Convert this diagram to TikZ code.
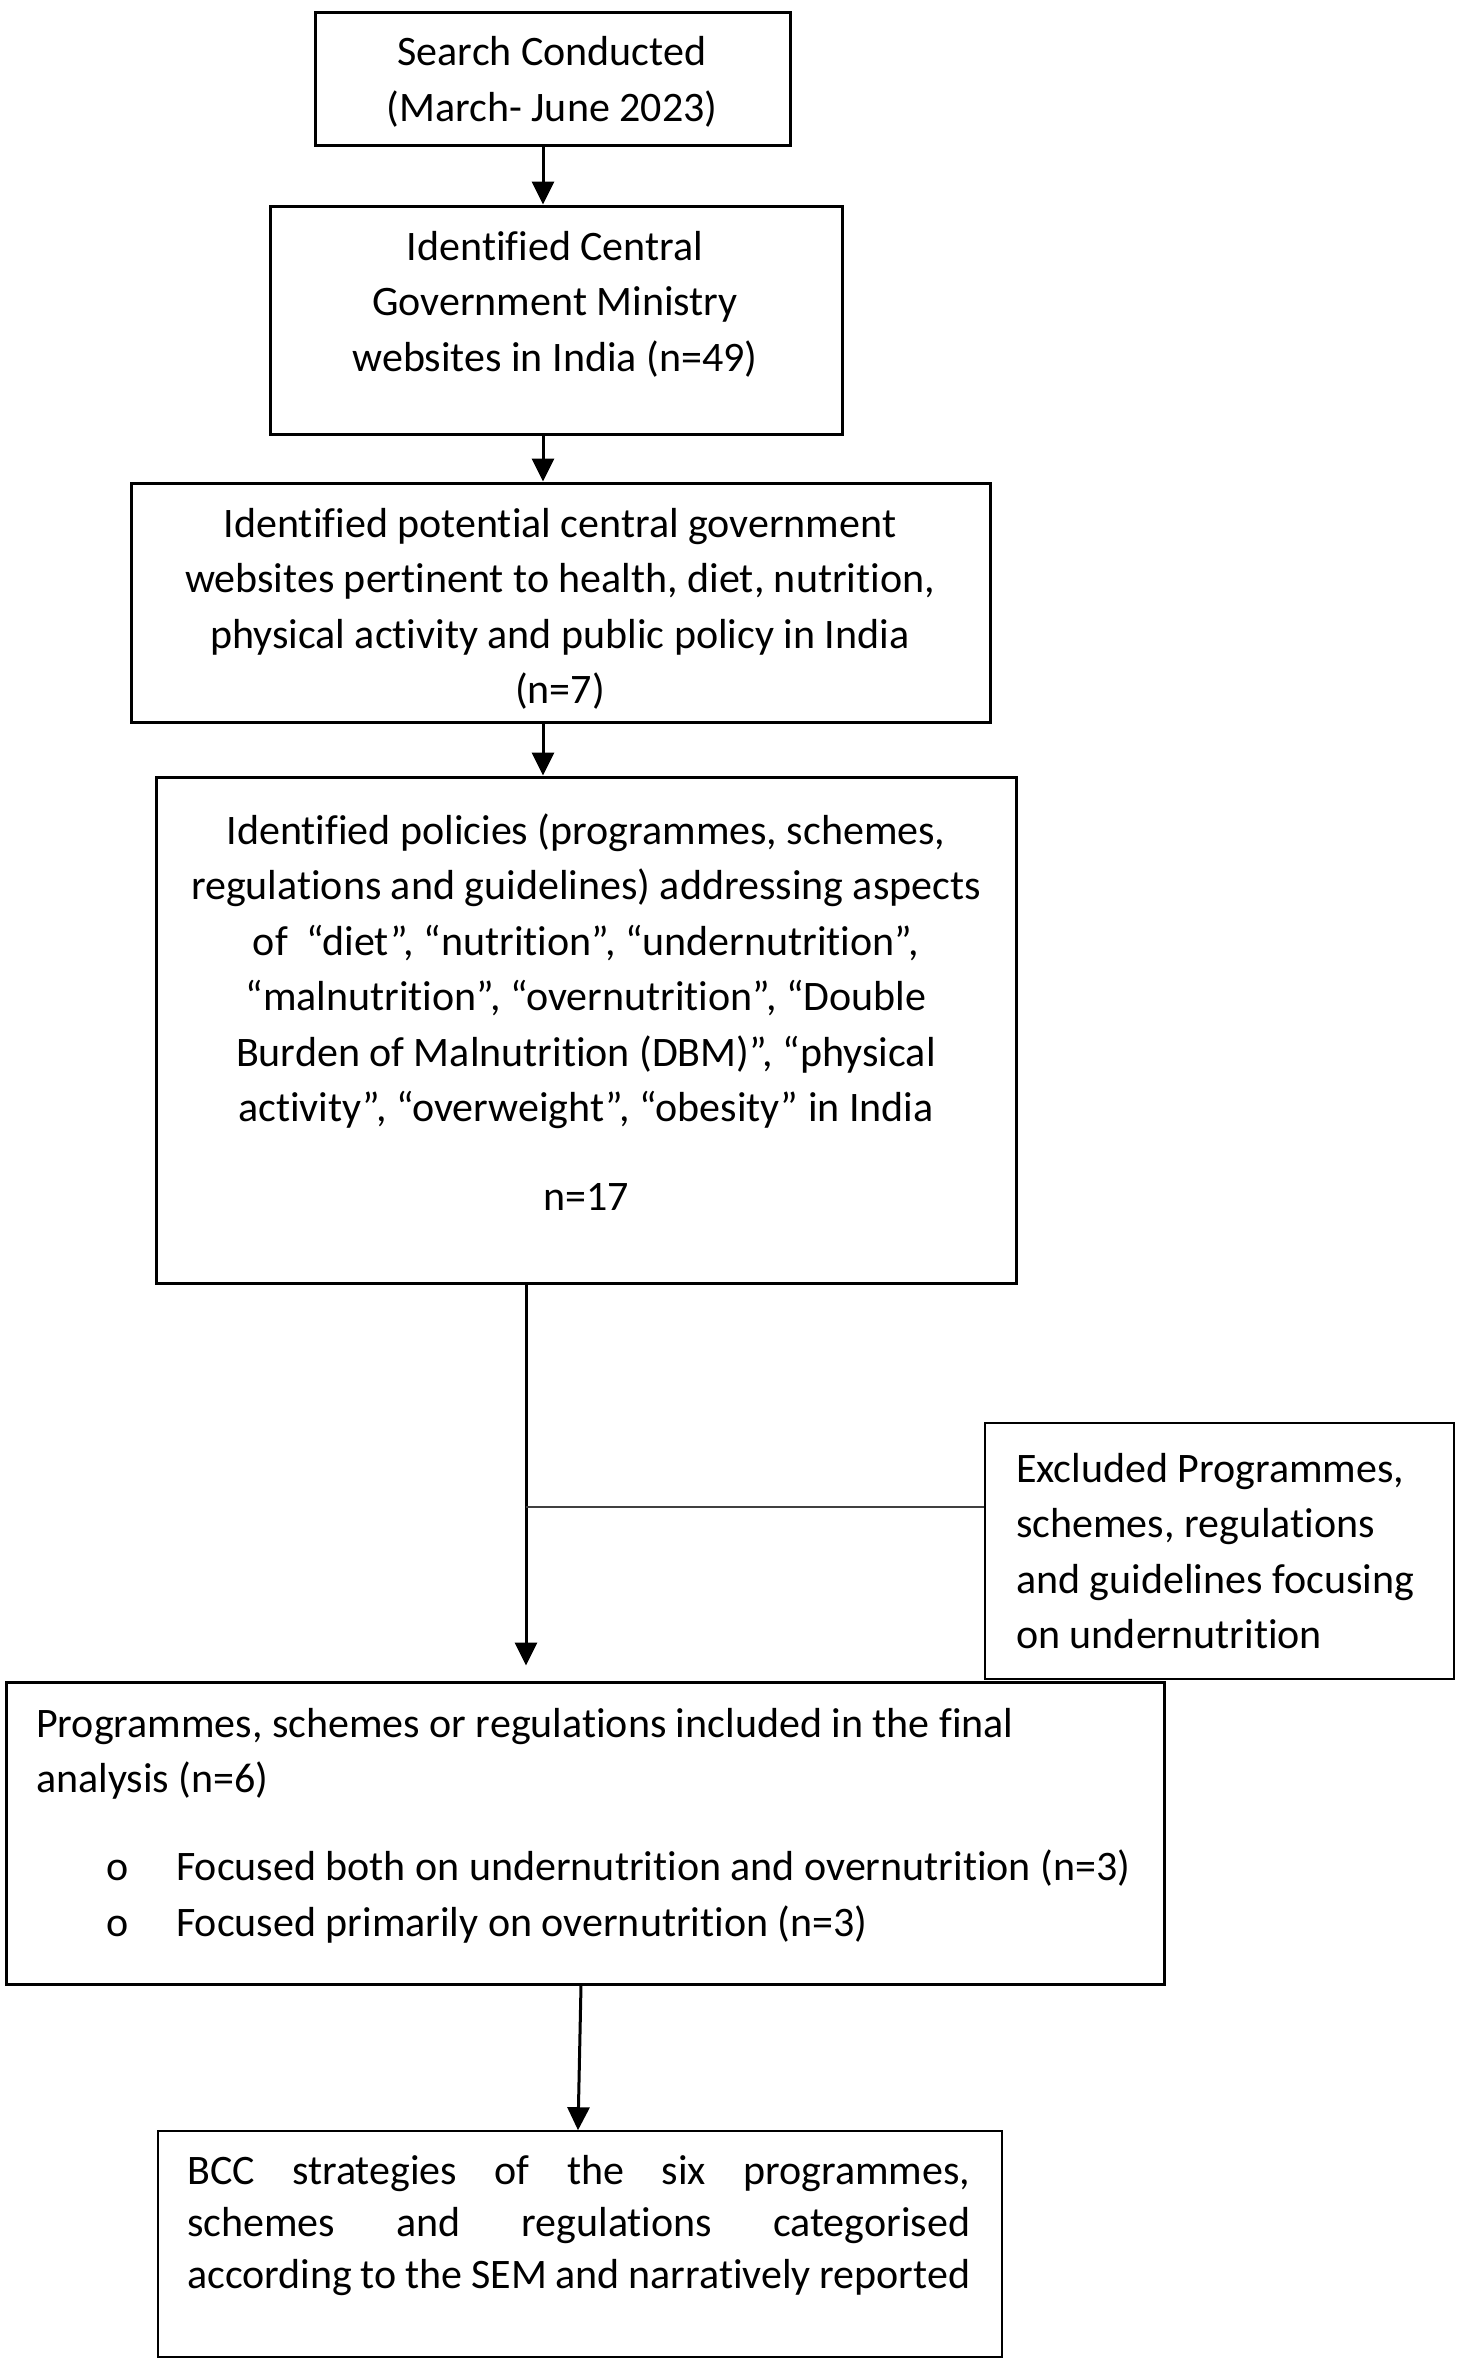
\documentclass[tikz,border=0pt]{standalone}
\usepackage{fontspec}
\setmainfont[Ligatures=CommonOff]{Carlito}
\usetikzlibrary{arrows.meta}
\begin{document}
\begin{tikzpicture}[x=1pt,y=-1pt,
  font=\fontsize{42}{55.5}\selectfont,
  box/.style={draw=black, line width=3pt, inner sep=0pt, rectangle},
  thinbox/.style={draw=black, line width=2pt, inner sep=0pt, rectangle},
  txt/.style={inner sep=0pt, align=center},
  ltxt/.style={inner sep=0pt, align=left, anchor=west},
  arr/.style={line width=3pt, -{Triangle[length=23pt,width=22pt]}},
  link/.style={line width=2pt, draw=black!75}]
\useasboundingbox (0,0) rectangle (1460,2362);
\fill[white] (0,0) rectangle (1460,2362);

% boxes
\node[box, minimum width=475pt, minimum height=133pt] (b1) at (552.5,78.5) {};
\node[box, minimum width=572pt, minimum height=228pt] (b2) at (556,320) {};
\node[box, minimum width=859pt, minimum height=239pt] (b3) at (560.5,602.5) {};
\node[box, minimum width=860pt, minimum height=506pt] (b4) at (586,1030) {};
\node[thinbox, line width=2.5pt, minimum width=469pt, minimum height=256pt] (ex) at (1219.5,1551) {};
\node[box, minimum width=1158pt, minimum height=302pt] (b5) at (585,1833) {};
\node[thinbox, line width=1.6pt, minimum width=844pt, minimum height=226pt] (b6) at (580,2244) {};

% texts
\node[txt] (t1) at (552,82) {Search Conducted\\(March- June 2023)};
\node[txt] (t2) at (555,304) {Identified Central\\Government Ministry\\websites in India (n=49)};
\node[txt] (t3) at (560,609) {Identified potential central government\\websites pertinent to health, diet, nutrition,\\physical activity and public policy in India\\(n=7)};
\node[txt] (t4) at (586,971) {Identified policies (programmes, schemes,\\regulations and guidelines) addressing aspects\\of~ “diet”, “nutrition”, “undernutrition”,\\“malnutrition”, “overnutrition”, “Double\\Burden of Malnutrition (DBM)”, “physical\\activity”, “overweight”, “obesity” in India};
\node[txt] (t4n) at (586,1197) {n=17};
\node[ltxt] (tex) at (1016,1551) {Excluded Programmes,\\schemes, regulations\\and guidelines focusing\\on undernutrition};
\node[ltxt] (t5) at (36,1754) {Programmes, schemes or regulations included in the final\\analysis (n=6)};
\node[ltxt] (bu1) at (106,1870) {o};
\node[ltxt] (bu2) at (106,1926) {o};
\node[ltxt] (t5a) at (176,1868) {Focused both on undernutrition and overnutrition (n=3)};
\node[ltxt] (t5b) at (176,1924) {Focused primarily on overnutrition (n=3)};
\node[inner sep=0pt, anchor=west, font=\fontsize{42}{52}\selectfont] (t6) at (187,2225)
  {\parbox{783pt}{\makebox[783pt][s]{BCC strategies of the six programmes,}\\
   \makebox[783pt][s]{schemes and regulations categorised}\\
   \makebox[783pt][s]{according to the SEM and narratively reported}}};

% connectors
\coordinate (c1) at (543,0);
\coordinate (c2) at (526,0);
\coordinate (c3) at (581,0);
\coordinate (c4) at (578,0);
\coordinate (j) at (526,1507);
\draw[arr] (b1.south -| c1) -- (b2.north -| c1);
\draw[arr] (b2.south -| c1) -- (b3.north -| c1);
\draw[arr] (b3.south -| c1) -- (b4.north -| c1);
\draw[arr, shorten >=15pt] (b4.south -| c2) -- (b5.north -| c2);
\draw[link] (j) -- (j -| ex.west);
\draw[arr] (b5.south -| c3) -- (b6.north -| c4);
\end{tikzpicture}
\end{document}
